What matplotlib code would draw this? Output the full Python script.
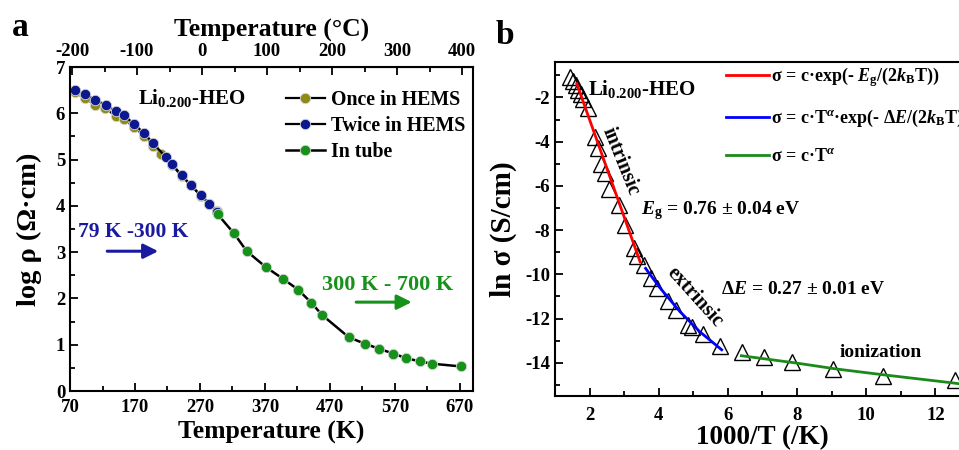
import numpy as np
import matplotlib
matplotlib.use('Agg')
import matplotlib.pyplot as plt
from matplotlib.ticker import MultipleLocator

plt.rcParams['font.family'] = ['Liberation Serif', 'DejaVu Serif']
plt.rcParams['font.weight'] = 'bold'
plt.rcParams['axes.unicode_minus'] = False
plt.rcParams['mathtext.fontset'] = 'custom'
plt.rcParams['mathtext.rm'] = 'Liberation Serif:bold'
plt.rcParams['mathtext.it'] = 'Liberation Serif:italic:bold'
plt.rcParams['mathtext.bf'] = 'Liberation Serif:bold'

# Panel a data: log resistivity vs temperature (K)
T_once = [78, 93, 109, 124, 140, 153, 168, 184, 198, 210, 227, 242, 256, 271, 284, 296]
rho_once = [6.45, 6.32, 6.18, 6.12, 5.94, 5.88, 5.70, 5.52, 5.30, 5.12, 4.88, 4.64, 4.44, 4.22, 4.05, 3.88]
T_twice = [78, 93, 109, 125, 140, 153, 169, 184, 198, 217, 227, 242, 256, 271, 284, 296]
rho_twice = [6.50, 6.41, 6.29, 6.18, 6.05, 5.96, 5.76, 5.57, 5.35, 5.06, 4.90, 4.66, 4.45, 4.23, 4.05, 3.87]
T_tube = [297, 322, 342, 371, 398, 421, 441, 458, 499, 524, 546, 567, 587, 608, 627, 672]
rho_tube = [3.82, 3.41, 3.02, 2.68, 2.42, 2.19, 1.91, 1.64, 1.16, 1.02, 0.91, 0.81, 0.71, 0.64, 0.59, 0.53]

# Panel b data: ln sigma vs 1000/T
inv_T = [1.43, 1.53, 1.61, 1.67, 1.75, 1.82, 1.96, 2.17, 2.25, 2.32, 2.45, 2.55, 2.85, 3.02,
         3.27, 3.36, 3.56, 3.77, 3.96, 4.27, 4.51, 4.86, 4.95, 5.28, 5.77, 6.42, 7.04, 7.84,
         9.04, 10.49, 12.56]
ln_sigma = [-1.10, -1.26, -1.46, -1.65, -1.83, -2.06, -2.50, -3.80, -4.31, -4.99, -5.44, -6.12,
            -6.87, -7.77, -8.82, -9.15, -9.60, -10.18, -10.62, -11.20, -11.61, -12.28, -12.39,
            -12.70, -13.23, -13.49, -13.74, -13.98, -14.28, -14.58, -14.76]
fit_intr_x = [1.63, 3.46]
fit_intr_y = [-1.38, -9.43]
fit_extr_x = [3.62, 4.03, 4.61, 5.19, 5.82]
fit_extr_y = [-9.73, -10.60, -11.68, -12.60, -13.41]
fit_ion_x = [6.39, 7.98, 9.14, 10.49, 12.51, 12.70]
fit_ion_y = [-13.68, -14.01, -14.28, -14.54, -14.91, -14.95]

W, H = 959, 450
fig = plt.figure(figsize=(W / 100, H / 100), dpi=100)

def px_axes(l, t, r, b):
    return fig.add_axes([l / W, 1 - b / H, (r - l) / W, (b - t) / H])

# ---------------- panel a ----------------
ax = px_axes(70, 67, 473, 391)
ball = dict(marker='o', markersize=7.5, markeredgecolor='#d8d8d8', markeredgewidth=0.6)
ax.plot(T_once, rho_once, color='black', lw=1.6, markerfacecolor='#8f8a14', label='Once in HEMS', **ball)
ax.plot(T_twice, rho_twice, color='black', lw=1.6, markerfacecolor='#0c1890', label='Twice in HEMS', **ball)
ax.plot(T_tube, rho_tube, color='black', lw=1.8, markerfacecolor='#16911a', label='In tube', **ball)

ax.set_xlim(70, 690)
ax.set_ylim(0, 7)
ax.set_xticks(np.arange(70, 690, 100))
ax.set_xticks(np.arange(120, 690, 100), minor=True)
ax.yaxis.set_major_locator(MultipleLocator(1))
ax.yaxis.set_minor_locator(MultipleLocator(0.5))
ax.tick_params(which='both', direction='in', labelsize=13.5, width=1.3)
ax.tick_params(which='major', length=6)
ax.tick_params(which='minor', length=3.5)
ax.tick_params(axis='x', pad=6)
for s in ax.spines.values():
    s.set_linewidth(1.5)
ax.set_xlabel('Temperature (K)', fontsize=18.5, fontweight='bold', labelpad=3)
ax.set_ylabel('log ρ (Ω·cm)', fontsize=20.5, fontweight='bold', labelpad=10)

top = ax.secondary_xaxis('top', functions=(lambda k: k - 273.15, lambda c: c + 273.15))
top.set_xticks(np.arange(-200, 401, 100))
top.set_xticks(np.arange(-150, 401, 100), minor=True)
top.tick_params(which='both', direction='in', labelsize=13.5, width=1.3, pad=5)
top.tick_params(which='major', length=6)
top.tick_params(which='minor', length=3.5)
top.set_xlabel('Temperature (°C)', fontsize=18.5, fontweight='bold', labelpad=5)

ax.text(257, 6.33, 'Li$_{0.200}$-HEO', fontsize=15, ha='center', va='center')
ax.text(82, 3.43, '79 K -300 K', fontsize=15.5, color='#1a1aa0', ha='left', va='center')
ax.annotate('', xy=(210, 3.02), xytext=(123, 3.02),
            arrowprops=dict(arrowstyle='-|>', color='#1a1aa0', lw=2.2, mutation_scale=22))
ax.text(558, 2.29, '300 K - 700 K', fontsize=16, color='#16911a', ha='center', va='center')
ax.annotate('', xy=(600, 1.92), xytext=(506, 1.92),
            arrowprops=dict(arrowstyle='-|>', color='#16911a', lw=2.2, mutation_scale=22))
ax.legend(loc='upper left', bbox_to_anchor=(0.535, 0.93), frameon=False, fontsize=14.3,
          handlelength=2.0, handletextpad=0.3, labelspacing=0.3, borderpad=0, borderaxespad=0)
fig.text(20 / W, 1 - 28 / H, 'a', fontsize=24, fontweight='bold', ha='center', va='center')

# ---------------- panel b ----------------
bx = px_axes(555, 62, 970, 396)
bx.plot(inv_T, ln_sigma, linestyle='none', marker='^', markersize=11, markerfacecolor='none',
        markeredgecolor='black', markeredgewidth=1.0)
bx.plot(fit_intr_x, fit_intr_y, color='red', lw=2.0, label=r'σ = c·exp(- $\mathit{E}_\mathrm{g}$/(2$\mathit{k}_\mathrm{B}$T))')
bx.plot(fit_extr_x, fit_extr_y, color='blue', lw=2.0, label=r'σ = c·T$^{α}$·exp(- Δ$\mathit{E}$/(2$\mathit{k}_\mathrm{B}$T))')
bx.plot(fit_ion_x, fit_ion_y, color='#1a8a1a', lw=2.0, label=r'σ = c·T$^{α}$')
bx.set_xlim(1, 13)
bx.set_ylim(-15.5, -0.4)
bx.set_xticks(np.arange(2, 13, 2))
bx.xaxis.set_minor_locator(MultipleLocator(1))
bx.set_yticks(np.arange(-14, -1, 2))
bx.yaxis.set_minor_locator(MultipleLocator(1))
bx.tick_params(which='both', direction='in', labelsize=13.5, width=1.3)
bx.tick_params(which='major', length=6)
bx.tick_params(which='minor', length=3.5)
bx.tick_params(axis='x', pad=8)
for s in bx.spines.values():
    s.set_linewidth(1.5)
bx.set_xlabel('1000/T (/K)', fontsize=19.5, fontweight='bold', labelpad=1)
bx.set_ylabel('ln σ (S/cm)', fontsize=21, fontweight='bold', labelpad=6)

bx.text(1.95, -1.6, 'Li$_{0.200}$-HEO', fontsize=15, ha='left', va='center')
bx.text(2.9, -4.9, 'intrinsic', fontsize=14.5, rotation=-68, ha='center', va='center')
bx.text(3.5, -7.1, r'$\mathit{E}_\mathrm{g}$ = 0.76 ± 0.04 eV', fontsize=14, ha='left', va='center')
bx.text(5.05, -11.05, 'extrinsic', fontsize=14.5, rotation=-48, ha='center', va='center')
bx.text(5.8, -10.7, r'Δ$\mathit{E}$ = 0.27 ± 0.01 eV', fontsize=14, ha='left', va='center')
bx.text(9.24, -13.55, 'ionization', fontsize=14, ha='left', va='center')
fig.legend(*bx.get_legend_handles_labels(), loc='upper left', bbox_to_anchor=(726 / W, 1 - 65 / H),
           frameon=False, fontsize=13, handlelength=2.4, handletextpad=0.1, labelspacing=1.05,
           borderpad=0, borderaxespad=0)
fig.text(505 / W, 1 - 35 / H, 'b', fontsize=24, fontweight='bold', ha='center', va='center')

fig.savefig('out.png', dpi=100)
